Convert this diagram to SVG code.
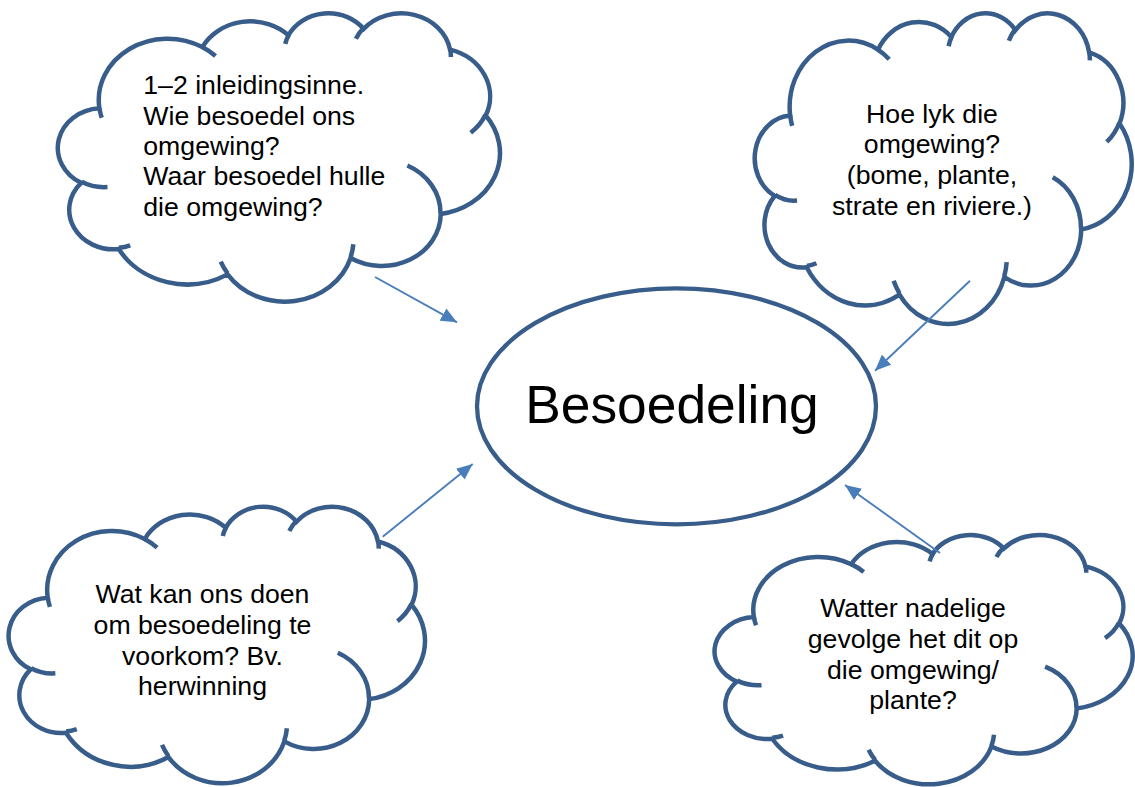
<svg xmlns="http://www.w3.org/2000/svg" width="1135" height="787" viewBox="0 0 1135 787">
<style>
.cl{fill:#ffffff;stroke:#385d8a;stroke-width:4.5;vector-effect:non-scaling-stroke;stroke-linejoin:miter}
.ci{fill:none;stroke:#385d8a;stroke-width:4.5;vector-effect:non-scaling-stroke}
.t{font-family:"Liberation Sans",Arial,sans-serif;font-size:26.67px;fill:#000}
.c{text-anchor:middle}
.ar{stroke:#4a7ebb;stroke-width:1.9;fill:none;marker-end:url(#ah)}
</style>
<defs>
<marker id="ah" markerUnits="userSpaceOnUse" markerWidth="16" markerHeight="14" refX="15" refY="6.5" orient="auto" viewBox="0 0 15 13">
<path d="M0,0 L15,6.5 L0,13 Z" fill="#4a7ebb"/>
</marker>
<g id="cloud">
<path class="cl" d="M3900 14370 A6753 9190 0 0 1 14006 5203 A5333 7267 0 0 1 22457 3433 A4365 5945 0 0 1 29834 2481 A4857 6595 0 0 1 38319 5577 A5333 7273 0 0 1 41819 15461 A6775 9220 0 0 1 37405 30204 A5785 7867 0 0 1 28556 36814 A6752 9215 0 0 1 16481 39263 A7720 10543 0 0 1 5806 35469 A4360 5918 0 0 1 2115 25547 A4345 5945 0 0 1 3900 14370 Z"/>
<path class="ci" d="M4693 26177 A4345 5945 0 0 1 2160 25380 M6928 34899 A4360 5918 0 0 1 5819 35281 M16478 39090 A6752 9215 0 0 1 15811 37352 M28827 34751 A6752 9215 0 0 1 28560 36661 M34129 22954 A5785 7867 0 0 1 37381 30090 M41798 15354 A5333 7273 0 0 1 40350 18030 M38324 5426 A4857 6595 0 0 1 38400 6689 M29078 3952 A4857 6595 0 0 1 29820 2340 M22141 4720 A4365 5945 0 0 1 22500 3330 M14000 5192 A6753 9190 0 0 1 15300 6540 M4127 15789 A6753 9190 0 0 1 3900 14370"/>
</g>
</defs>
<rect width="1135" height="787" fill="#ffffff"/>
<g id="node-center">
<ellipse cx="676.5" cy="406.3" rx="199.5" ry="118" fill="#ffffff" stroke="#385d8a" stroke-width="4.3"/>
<text class="t c" x="672" y="423" style="font-size:53.33px">Besoedeling</text>
</g>
<g id="node-topleft">
<use href="#cloud" transform="translate(59.65 12.35) scale(0.010188 0.006674)"/>
<text class="t" x="143.3" y="94">1–2 inleidingsinne.</text>
<text class="t" x="143.3" y="124.5">Wie besoedel ons</text>
<text class="t" x="143.3" y="155">omgewing?</text>
<text class="t" x="143.3" y="185.3">Waar besoedel hulle</text>
<text class="t" x="143.3" y="215.7">die omgewing?</text>
</g>
<g id="node-topright">
<use href="#cloud" transform="translate(756.3 12.28) scale(0.008686 0.00719)"/>
<text class="t c" x="932" y="122.7">Hoe lyk die</text>
<text class="t c" x="932" y="153.3">omgewing?</text>
<text class="t c" x="932" y="184.3">(bome, plante,</text>
<text class="t c" x="932" y="214.7">strate en riviere.)</text>
</g>
<g id="node-bottomleft">
<use href="#cloud" transform="translate(10.33 505.8) scale(0.009594 0.0064)"/>
<text class="t c" x="202.5" y="603.3">Wat kan ons doen</text>
<text class="t c" x="202.5" y="634">om besoedeling te</text>
<text class="t c" x="202.5" y="664.7">voorkom? Bv.</text>
<text class="t c" x="202.5" y="695.3">herwinning</text>
</g>
<g id="node-bottomright">
<use href="#cloud" transform="translate(716.3 534.2) scale(0.009634 0.005769)"/>
<text class="t c" x="913" y="617.3">Watter nadelige</text>
<text class="t c" x="913" y="648">gevolge het dit op</text>
<text class="t c" x="913" y="678.7">die omgewing/</text>
<text class="t c" x="913" y="709.3">plante?</text>
</g>
<g id="connectors">
<line class="ar" x1="375" y1="277" x2="457" y2="322.3"/>
<line class="ar" x1="382.7" y1="536.7" x2="472.7" y2="464"/>
<line class="ar" x1="970" y1="280.7" x2="875" y2="370.7"/>
<line class="ar" x1="940" y1="553" x2="845" y2="485"/>
</g>
</svg>
